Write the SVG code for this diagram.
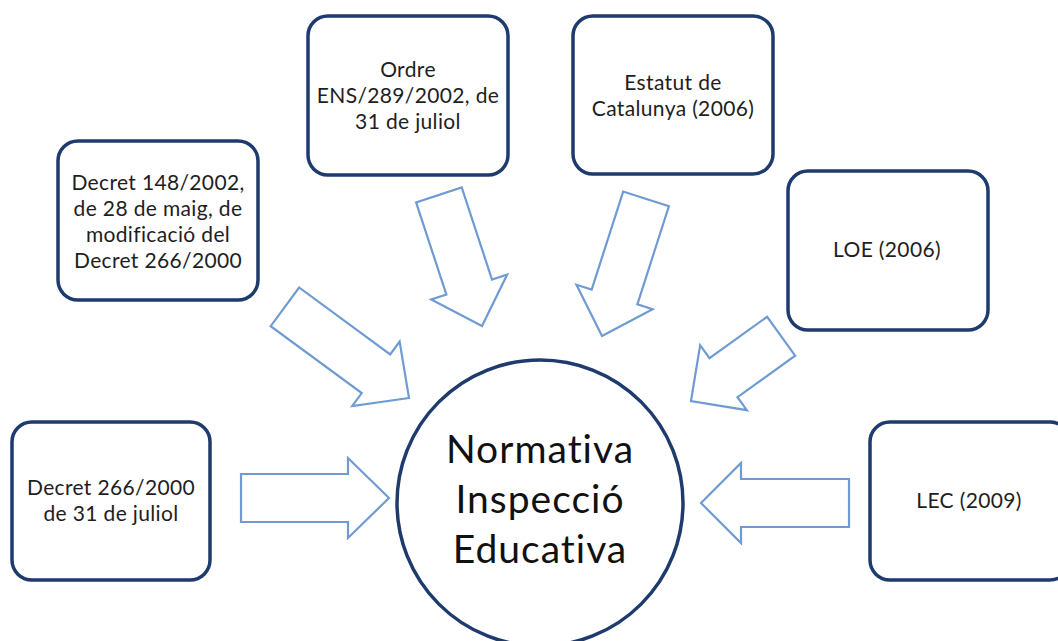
<svg xmlns="http://www.w3.org/2000/svg" width="1058" height="641" viewBox="0 0 1058 641">
<style>
.box{fill:#ffffff;stroke:#1f3b6e;stroke-width:3.5}
.circ{fill:#ffffff;stroke:#1f3b6e;stroke-width:3.5}
.arr{fill:#ffffff;stroke:#6f9bd2;stroke-width:2.2;stroke-linejoin:miter}
.t{font-family:Lato,"Open Sans",sans-serif;font-size:21px;letter-spacing:0.35px;fill:#1e1e1e;text-anchor:middle}
.tc{font-family:Lato,"Open Sans",sans-serif;font-size:39px;letter-spacing:1px;fill:#111111;text-anchor:middle}
</style>
<rect width="1058" height="641" fill="#ffffff"/>
<g id="connectors">
<polygon class="arr" transform="translate(409,398) rotate(36.3)" points="0,0 -41,40 -41,24 -154,24 -154,-24 -41,-24 -41,-40"/>
<polygon class="arr" transform="translate(482,326) rotate(71.8)" points="0,0 -41,40 -41,24 -138,24 -138,-24 -41,-24 -41,-40"/>
<polygon class="arr" transform="translate(602,336) rotate(107.8)" points="0,0 -41,40 -41,24 -144,24 -144,-24 -41,-24 -41,-40"/>
<polygon class="arr" transform="translate(691,401) rotate(144.3)" points="0,0 -40,40 -40,24 -111,24 -111,-24 -40,-24 -40,-40"/>
<polygon class="arr" transform="translate(389,498)" points="0,0 -41,40 -41,24 -148,24 -148,-24 -41,-24 -41,-40"/>
<polygon class="arr" transform="translate(701,503) rotate(180)" points="0,0 -40,40 -40,24 -148,24 -148,-24 -40,-24 -40,-40"/>
</g>
<g id="center">
<circle class="circ" cx="540" cy="503" r="143"/>
<text class="tc" x="540" y="463">Normativa</text>
<text class="tc" x="540" y="513">Inspecció</text>
<text class="tc" x="540" y="563">Educativa</text>
</g>
<g id="decret266">
<rect class="box" x="12" y="422" width="198" height="158" rx="20"/>
<text class="t" x="111" y="495">Decret 266/2000</text>
<text class="t" x="111" y="521">de 31 de juliol</text>
</g>
<g id="decret148">
<rect class="box" x="58" y="141" width="200" height="159" rx="20"/>
<text class="t" x="158" y="190">Decret 148/2002,</text>
<text class="t" x="158" y="216">de 28 de maig, de</text>
<text class="t" x="158" y="242">modificació del</text>
<text class="t" x="158" y="268">Decret 266/2000</text>
</g>
<g id="ordre">
<rect class="box" x="308" y="16" width="200" height="159" rx="20"/>
<text class="t" x="408" y="77">Ordre</text>
<text class="t" x="408" y="103">ENS/289/2002, de</text>
<text class="t" x="408" y="129">31 de juliol</text>
</g>
<g id="estatut">
<rect class="box" x="573" y="16" width="200" height="158" rx="20"/>
<text class="t" x="673" y="90">Estatut de</text>
<text class="t" x="673" y="116">Catalunya (2006)</text>
</g>
<g id="loe">
<rect class="box" x="788" y="171" width="200" height="159" rx="20"/>
<text class="t" x="887" y="257">LOE (2006)</text>
</g>
<g id="lec">
<rect class="box" x="870" y="422" width="200" height="158" rx="20"/>
<text class="t" x="969" y="508">LEC (2009)</text>
</g>
</svg>
